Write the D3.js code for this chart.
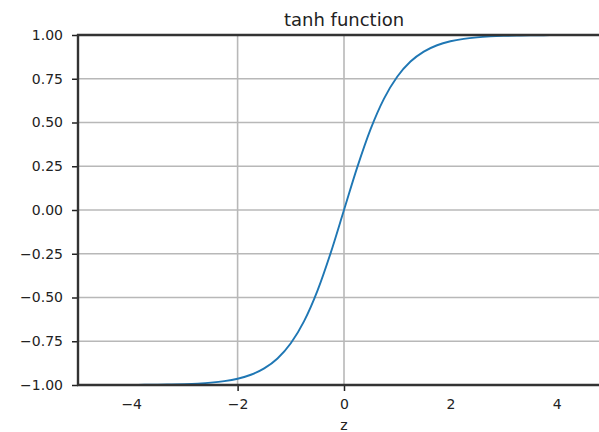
<!DOCTYPE html>
<html><head><meta charset="utf-8">
<script src="https://cdn.jsdelivr.net/npm/d3@7"></script>
<style>body{margin:0;background:#fff;overflow:hidden}</style>
</head><body>
<svg id="c" width="599" height="432"></svg>
<script>
const xValues = [-5,-4.75,-4.5,-4.25,-4,-3.75,-3.5,-3.25,-3,-2.75,-2.5,-2.25,-2,-1.75,-1.5,-1.25,-1,-0.75,-0.5,-0.25,0,0.25,0.5,0.75,1,1.25,1.5,1.75,2,2.25,2.5,2.75,3,3.25,3.5,3.75,4,4.25,4.5,4.75,5];
const yValues = [-0.99991,-0.99985,-0.99975,-0.99959,-0.99933,-0.99890,-0.99818,-0.99700,-0.99505,-0.99186,-0.98661,-0.97803,-0.96403,-0.94138,-0.90515,-0.84828,-0.76159,-0.63515,-0.46212,-0.24492,0,0.24492,0.46212,0.63515,0.76159,0.84828,0.90515,0.94138,0.96403,0.97803,0.98661,0.99186,0.99505,0.99700,0.99818,0.99890,0.99933,0.99959,0.99975,0.99985,0.99991];
const xTicks = [-4,-2,0,2,4];
const xGridTicks = [-2,0];
const yTicks = [-1,-0.75,-0.5,-0.25,0,0.25,0.5,0.75,1];
const title = "tanh function";
const xLabel = "z";

const svg = d3.select("#c");
const L = 78, R = 610, T = 35, B = 385;
const x = d3.scaleLinear().domain([-5,5]).range([L,R]);
const y = d3.scaleLinear().domain([-1,1]).range([B,T]);
const font = "DejaVu Sans, sans-serif";

// grid
svg.append("g").selectAll("line").data(yTicks).join("line")
  .attr("x1",L).attr("x2",R).attr("y1",d=>y(d)).attr("y2",d=>y(d))
  .attr("stroke","#b8b8b8").attr("stroke-width",1.6);
svg.append("g").selectAll("line").data(xGridTicks).join("line")
  .attr("x1",d=>x(d)).attr("x2",d=>x(d)).attr("y1",T).attr("y2",B)
  .attr("stroke","#b8b8b8").attr("stroke-width",1.6);

// line
const data = xValues.map((v,i)=>[v,yValues[i]]);
svg.append("path").datum(data)
  .attr("d", d3.line().x(d=>x(d[0])).y(d=>y(d[1])).curve(d3.curveMonotoneX))
  .attr("fill","none").attr("stroke","#1f77b4").attr("stroke-width",1.9);

// axes
const fmt = d => d3.format(".2f")(d).replace("-","\u2212");
const yAxis = svg.append("g").attr("transform",`translate(${L},0)`)
  .call(d3.axisLeft(y).tickValues(yTicks).tickFormat(fmt).tickSize(6).tickPadding(9));
yAxis.select(".domain").remove();
yAxis.selectAll("line").attr("stroke","#222").attr("stroke-width",1.5);
yAxis.selectAll("text").attr("font-family",font).attr("font-size",14).attr("fill","#222");

const xAxis = svg.append("g").attr("transform",`translate(0,${B})`)
  .call(d3.axisBottom(x).tickValues(xTicks).tickFormat(d=>String(d).replace("-","\u2212")).tickSize(6).tickPadding(8));
xAxis.select(".domain").remove();
xAxis.selectAll(".tick line").attr("stroke","#222").attr("stroke-width",1.5)
  .attr("opacity",d=>xGridTicks.includes(d)?1:0);
xAxis.selectAll("text").attr("font-family",font).attr("font-size",14).attr("fill","#222");

// spines
const sp = svg.append("g").attr("stroke","#333").attr("stroke-width",2.4).attr("fill","none");
sp.append("line").attr("x1",L).attr("x2",L).attr("y1",T-1).attr("y2",B+1);
sp.append("line").attr("x1",L-1).attr("x2",R).attr("y1",T).attr("y2",T);
sp.append("line").attr("x1",L-1).attr("x2",R).attr("y1",B).attr("y2",B);

// title & label
svg.append("text").attr("x",x(0)).attr("y",26).attr("text-anchor","middle")
  .attr("font-family",font).attr("font-size",18).attr("fill","#222").text(title);
svg.append("text").attr("x",x(0)).attr("y",430).attr("text-anchor","middle")
  .attr("font-family",font).attr("font-size",14).attr("fill","#222").text(xLabel);
</script>
</body></html>
